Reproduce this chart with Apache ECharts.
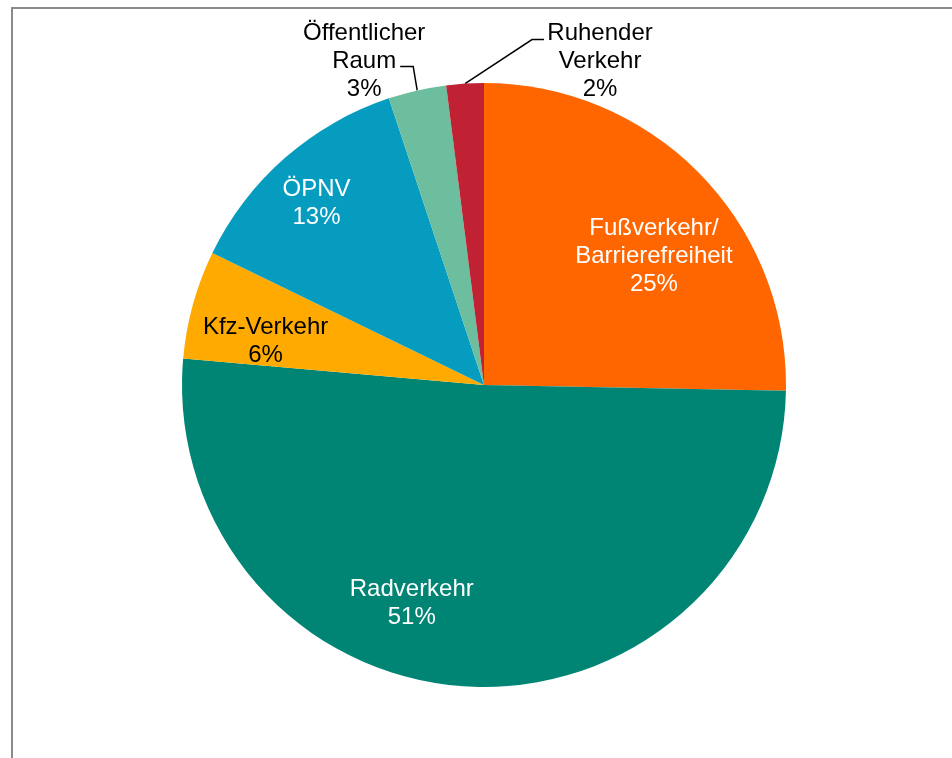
<!DOCTYPE html>
<html>
<head>
<meta charset="utf-8">
<script src="https://cdn.jsdelivr.net/npm/echarts@6/dist/echarts.min.js"></script>
<style>
html,body{margin:0;padding:0;background:#fff;}
#chart{width:952px;height:758px;}
</style>
</head>
<body>
<div id="chart"></div>
<script>
var categories = ['Fußverkehr/\nBarrierefreiheit', 'Radverkehr', 'Kfz-Verkehr', 'ÖPNV', 'Öffentlicher\nRaum', 'Ruhender\nVerkehr'];
var values = [25.3, 51.1, 5.8, 12.7, 3.1, 2.0];
var colors = ['#FF6600', '#008574', '#FFAA00', '#069CC0', '#6CBE9E', '#C02233'];
var labelColors = ['#ffffff', '#ffffff', '#000000', '#ffffff', '#000000', '#000000'];
var labelPositions = ['inside', 'inside', 'inside', 'inside', 'outside', 'outside'];
var labelOffsets = [[60, -21], [-64, 65], [-70, -3], [-66, -66], [0, 0], [0, 0]];

var chart = echarts.init(document.getElementById('chart'), null, {renderer: 'canvas'});
var data = categories.map(function (c, i) {
  return {
    name: c,
    value: values[i],
    itemStyle: {color: colors[i]},
    label: {color: labelColors[i], position: labelPositions[i], offset: labelOffsets[i]}
  };
});

// outside label layout (relative to the arc anchor point)
var outsideLayout = {
  4: {elbow: [-4, -24], end: [-13, 0], label: [-53, -29]},
  5: {elbow: [67, -44], end: [12, 0], label: [135, -22]}
};

chart.setOption({
  animation: false,
  backgroundColor: '#ffffff',
  graphic: [{
    type: 'rect',
    shape: {x: 12, y: 8, width: 1200, height: 1200},
    style: {fill: 'none', stroke: '#8a8a8a', lineWidth: 2},
    silent: true
  }],
  series: [{
    type: 'pie',
    center: [484, 385],
    radius: 302,
    startAngle: 90,
    clockwise: true,
    avoidLabelOverlap: false,
    data: data,
    label: {
      fontFamily: 'Liberation Sans, Arial, sans-serif',
      fontSize: 24,
      lineHeight: 28,
      align: 'center',
      formatter: function (p) { return p.name + '\n' + Math.round(p.percent) + '%'; }
    },
    labelLine: {show: true, lineStyle: {color: '#000', width: 1.5}, length: 20, length2: 10},
    labelLayout: function (params) {
      var cfg = outsideLayout[params.dataIndex];
      if (!cfg || !params.labelLinePoints) return {};
      var a = params.labelLinePoints[0];
      var e = [a[0] + cfg.elbow[0], a[1] + cfg.elbow[1]];
      var t = [e[0] + cfg.end[0], e[1] + cfg.end[1]];
      return {
        x: a[0] + cfg.label[0],
        y: a[1] + cfg.label[1],
        align: 'center',
        verticalAlign: 'middle',
        labelLinePoints: [a, e, t]
      };
    },
    emphasis: {disabled: true}
  }]
});
</script>
</body>
</html>
